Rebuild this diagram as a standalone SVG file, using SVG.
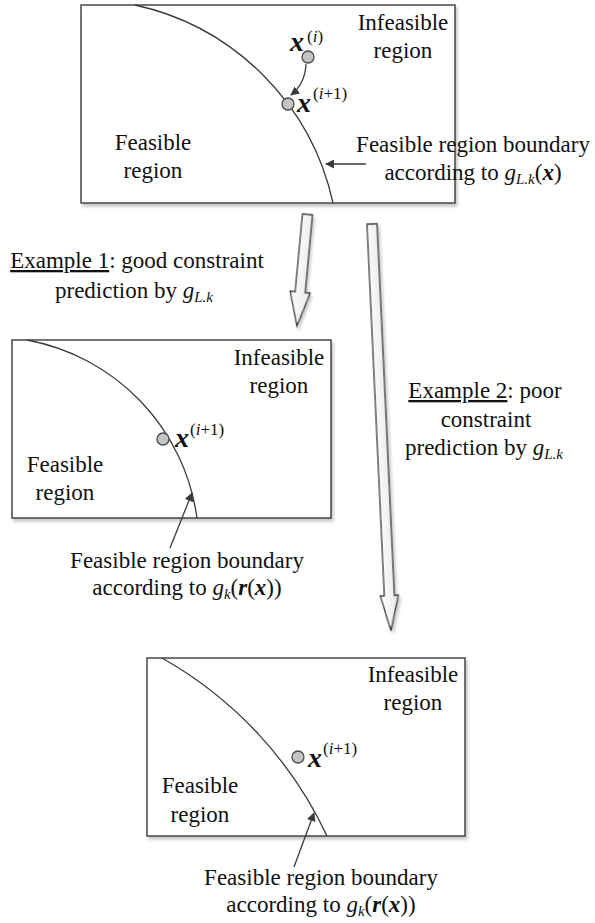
<svg xmlns="http://www.w3.org/2000/svg" width="595" height="923" viewBox="0 0 595 923">
<style>
.t{font-family:"Liberation Serif","Times New Roman",serif;font-size:23px;fill:#111}
.m{text-anchor:middle}
.bx{fill:#fff;stroke:#3a3a3a;stroke-width:1.4}
.cv{fill:none;stroke:#3a3a3a;stroke-width:1.3}
.pt{fill:#c4c4c4;stroke:#4a4a4a;stroke-width:1.3}
.xb{font-family:"Liberation Serif","Times New Roman",serif;font-weight:bold;font-style:italic;font-size:28px;fill:#111}
.sup{font-family:"Liberation Serif","Times New Roman",serif;font-size:17px;fill:#111}
.i{font-style:italic}
.bi{font-style:italic;font-weight:bold}
.sub{font-size:15px;font-style:italic}
.ar{fill:none;stroke:#3a3a3a;stroke-width:1.3}
.blk{fill:url(#gr);stroke:#3a3a3a;stroke-width:1.3;filter:url(#sh)}
</style>
<defs>
<filter id="sh" x="-10%" y="-10%" width="130%" height="130%">
<feDropShadow dx="2" dy="3" stdDeviation="1.6" flood-color="#000" flood-opacity="0.22"/>
</filter>
<linearGradient id="gr" x1="0" y1="0" x2="1" y2="0">
<stop offset="0" stop-color="#ffffff"/>
<stop offset="1" stop-color="#e8e8e8"/>
</linearGradient>
<marker id="ah" viewBox="0 0 10 10" refX="9" refY="5" markerWidth="9" markerHeight="9" markerUnits="userSpaceOnUse" orient="auto">
<path d="M0,0 L10,5 L0,10 z" fill="#3a3a3a"/>
</marker>
</defs>

<g id="box1">
<rect class="bx" x="81" y="5" width="374" height="198" filter="url(#sh)"/>
<path class="cv" d="M135,5 A259.5,259.5 0 0 1 333,203"/>
<text class="t m" x="403" y="30">Infeasible</text>
<text class="t m" x="403" y="58">region</text>
<text class="t m" x="153" y="150">Feasible</text>
<text class="t m" x="153" y="178">region</text>
<circle class="pt" cx="308" cy="57" r="6"/>
<text class="xb" x="290" y="51">x</text><text class="sup" x="307" y="42">(<tspan class="i">i</tspan>)</text>
<circle class="pt" cx="288" cy="104" r="6"/>
<text class="xb" x="297" y="112">x</text><text class="sup" x="313" y="99">(<tspan class="i">i</tspan>+1)</text>
</g>

<g id="label1">
<text class="t m" x="473" y="152">Feasible region boundary</text>
<text class="t m" x="473" y="180">according to <tspan class="i">g</tspan><tspan class="sub" dy="4">L.k</tspan><tspan dy="-4">(</tspan><tspan class="bi">x</tspan>)</text>
</g>

<g id="box2">
<rect class="bx" x="12" y="340" width="319" height="178" filter="url(#sh)"/>
<path class="cv" d="M27,340 A210,210 0 0 1 197,518"/>
<text class="t m" x="279" y="365">Infeasible</text>
<text class="t m" x="279" y="393">region</text>
<text class="t m" x="65" y="472">Feasible</text>
<text class="t m" x="65" y="500">region</text>
<circle class="pt" cx="163" cy="439" r="6"/>
<text class="xb" x="175" y="447">x</text><text class="sup" x="190" y="435">(<tspan class="i">i</tspan>+1)</text>
</g>

<g id="label2">
<text class="t m" x="187" y="568">Feasible region boundary</text>
<text class="t m" x="187" y="595">according to <tspan class="i">g</tspan><tspan class="sub" dy="4">k</tspan><tspan dy="-4">(</tspan><tspan class="bi">r</tspan>(<tspan class="bi">x</tspan>))</text>
</g>

<g id="box3">
<rect class="bx" x="147" y="658" width="318" height="178" filter="url(#sh)"/>
<path class="cv" d="M162,658 A398,398 0 0 1 327,836"/>
<text class="t m" x="413" y="682">Infeasible</text>
<text class="t m" x="413" y="710">region</text>
<text class="t m" x="200" y="793">Feasible</text>
<text class="t m" x="200" y="822">region</text>
<circle class="pt" cx="298" cy="757" r="6"/>
<text class="xb" x="308" y="767">x</text><text class="sup" x="323" y="754">(<tspan class="i">i</tspan>+1)</text>
</g>

<g id="label3">
<text class="t m" x="321" y="885">Feasible region boundary</text>
<text class="t m" x="321" y="912">according to <tspan class="i">g</tspan><tspan class="sub" dy="4">k</tspan><tspan dy="-4">(</tspan><tspan class="bi">r</tspan>(<tspan class="bi">x</tspan>))</text>
</g>

<g id="example1">
<text class="t m" x="137" y="268"><tspan text-decoration="underline">Example 1</tspan>: good constraint</text>
<text class="t m" x="134" y="298">prediction by <tspan class="i">g</tspan><tspan class="sub" dy="4">L.k</tspan></text>
</g>

<g id="example2">
<text class="t m" x="485" y="398"><tspan text-decoration="underline">Example 2</tspan>: poor</text>
<text class="t m" x="486" y="427">constraint</text>
<text class="t m" x="484" y="455">prediction by <tspan class="i">g</tspan><tspan class="sub" dy="4">L.k</tspan></text>
</g>

<g id="connectors">
<path class="ar" d="M306,64 Q305,84 291,95" marker-end="url(#ah)"/>
<line class="ar" x1="366" y1="164" x2="326" y2="164" marker-end="url(#ah)"/>
<line class="ar" x1="170" y1="548" x2="192" y2="493" marker-end="url(#ah)"/>
<line class="ar" x1="294" y1="867" x2="314" y2="813" marker-end="url(#ah)"/>
<polygon class="blk" transform="translate(307.5,214.5) rotate(5.4)" points="-5,0 5,0 5,78 10,78 0,112 -10,78 -5,78"/>
<polygon class="blk" transform="translate(372,224) rotate(-2.67)" points="-5,0 5,0 5,372 9,372 0,407 -9,372 -5,372"/>
</g>
</svg>
